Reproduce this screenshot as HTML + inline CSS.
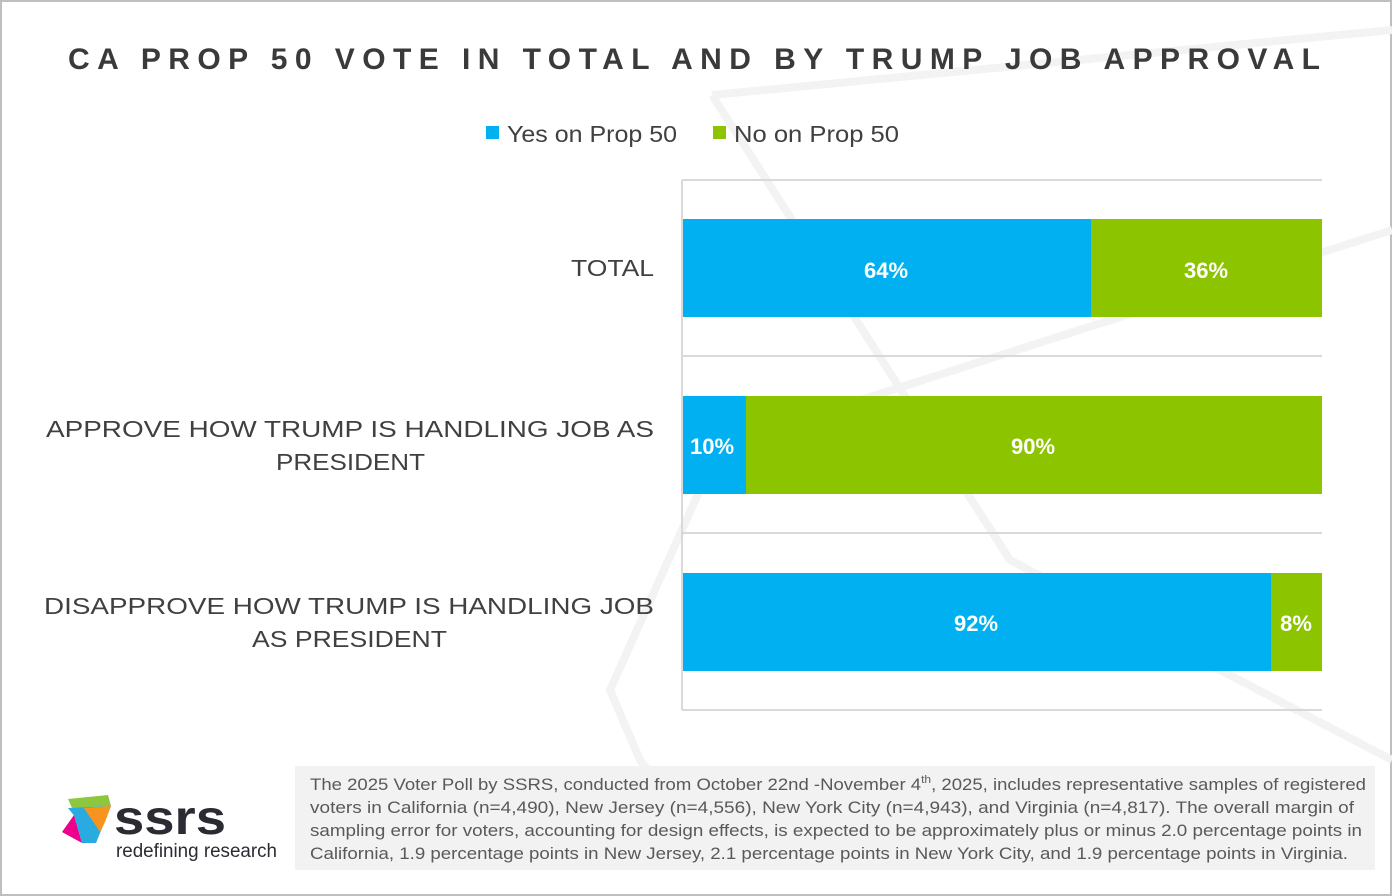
<!DOCTYPE html>
<html><head><meta charset="utf-8"><style>
html,body{margin:0;padding:0;background:#fff}
svg{display:block}
text{font-family:"Liberation Sans","DejaVu Sans",sans-serif}
</style></head><body>
<svg width="1392" height="896" viewBox="0 0 1392 896" xmlns="http://www.w3.org/2000/svg">
<rect x="0" y="0" width="1392" height="896" fill="#fff"/>
<rect x="1" y="1" width="1390" height="894" fill="none" stroke="#bfbfbf" stroke-width="2"/>
<!-- watermark -->
<g fill="none" stroke="#f3f3f3" stroke-width="8">
<path d="M712 95 L1392 30"/>
<path d="M712 95 L1010 560 L1392 760"/>
<path d="M1392 230 L720 445 L610 690 L640 760 L720 860"/>
</g>
<text x="68" y="69" font-size="30" font-weight="bold" fill="#3a3a3a" textLength="1252" lengthAdjust="spacing">CA PROP 50 VOTE IN TOTAL AND BY TRUMP JOB APPROVAL</text>
<rect x="486" y="126" width="13" height="13" fill="#00b0f0"/>
<text x="507" y="142" font-size="23" fill="#404040" textLength="170" lengthAdjust="spacingAndGlyphs">Yes on Prop 50</text>
<rect x="713" y="126" width="13" height="13" fill="#8cc400"/>
<text x="734" y="142" font-size="23" fill="#404040" textLength="165" lengthAdjust="spacingAndGlyphs">No on Prop 50</text>
<g stroke="#d9d9d9" stroke-width="2">
<line x1="682" y1="180" x2="682" y2="710"/>
<line x1="682" y1="180" x2="1322" y2="180"/>
<line x1="682" y1="356" x2="1322" y2="356"/>
<line x1="682" y1="533" x2="1322" y2="533"/>
<line x1="682" y1="710" x2="1322" y2="710"/>
</g>
<rect x="683" y="219" width="408" height="98" fill="#00b0f0"/>
<rect x="1091" y="219" width="231" height="98" fill="#8cc400"/>
<rect x="683" y="396" width="63" height="98" fill="#00b0f0"/>
<rect x="746" y="396" width="576" height="98" fill="#8cc400"/>
<rect x="683" y="573" width="588" height="98" fill="#00b0f0"/>
<rect x="1271" y="573" width="51" height="98" fill="#8cc400"/>
<g font-size="22" fill="#fff" text-anchor="middle" font-weight="bold">
<text x="886" y="278">64%</text><text x="1206" y="278">36%</text>
<text x="712" y="454">10%</text><text x="1033" y="454">90%</text>
<text x="976" y="631">92%</text><text x="1296" y="631">8%</text>
</g>
<g font-size="23" fill="#404040" lengthAdjust="spacingAndGlyphs">
<text x="571" y="276" textLength="83" lengthAdjust="spacingAndGlyphs">TOTAL</text>
<text x="46" y="437" textLength="608" lengthAdjust="spacingAndGlyphs">APPROVE HOW TRUMP IS HANDLING JOB AS</text>
<text x="276" y="470" textLength="149" lengthAdjust="spacingAndGlyphs">PRESIDENT</text>
<text x="44" y="614" textLength="610" lengthAdjust="spacingAndGlyphs">DISAPPROVE HOW TRUMP IS HANDLING JOB</text>
<text x="252" y="647" textLength="195" lengthAdjust="spacingAndGlyphs">AS PRESIDENT</text>
</g>
<rect x="295" y="766" width="1080" height="104" fill="#f2f2f2"/>
<g font-size="17" fill="#595959">
<text x="310" y="790" textLength="1056" lengthAdjust="spacingAndGlyphs">The 2025 Voter Poll by SSRS, conducted from October 22nd -November 4<tspan font-size="11" dy="-7">th</tspan><tspan dy="7">, 2025, includes representative samples of registered</tspan></text>
<text x="310" y="813" textLength="1044" lengthAdjust="spacingAndGlyphs">voters in California (n=4,490), New Jersey (n=4,556), New York City (n=4,943), and Virginia (n=4,817). The overall margin of</text>
<text x="310" y="836" textLength="1052" lengthAdjust="spacingAndGlyphs">sampling error for voters, accounting for design effects, is expected to be approximately plus or minus 2.0 percentage points in</text>
<text x="310" y="859" textLength="1038" lengthAdjust="spacingAndGlyphs">California, 1.9 percentage points in New Jersey, 2.1 percentage points in New York City, and 1.9 percentage points in Virginia.</text>
</g>
<!-- logo -->
<polygon points="68,799 108,795 111,806 72,808" fill="#8dc63f"/>
<polygon points="68,808 111,806 96,843" fill="#29abe2"/>
<polygon points="84,808 111,806 105,822 100,832" fill="#f7941d"/>
<polygon points="62,832 74,815 82,843" fill="#ec008c"/>
<polygon points="72,808 96,843 82,843 74,815" fill="#29abe2"/>
<text x="114" y="834" font-size="48" font-weight="bold" fill="#2b2b33" textLength="112" lengthAdjust="spacingAndGlyphs">ssrs</text>
<text x="116" y="857" font-size="19" fill="#2b2b33" textLength="161" lengthAdjust="spacingAndGlyphs">redefining research</text>
</svg>
</body></html>
